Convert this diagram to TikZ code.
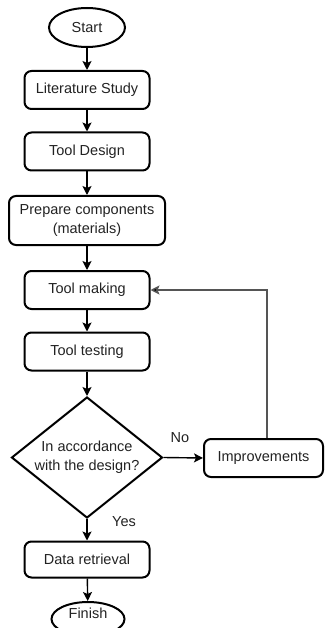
\documentclass[tikz,border=0pt]{standalone}
\usepackage{fontspec}
\setmainfont{Liberation Sans}
\usetikzlibrary{shapes.geometric,arrows.meta}
\definecolor{txt}{HTML}{222222}
\definecolor{fb}{HTML}{555555}
\tikzset{
  base/.style={draw=black, line width=2pt, text=txt, align=center, inner sep=0pt,
    font=\fontsize{14.5}{18.5}\selectfont},
  term/.style={base, ellipse},
  stepbox/.style={base, rectangle, rounded corners=7pt, minimum width=125pt, minimum height=38pt},
  decision/.style={base, diamond, aspect=1.25, minimum width=151pt, minimum height=121pt,
    font=\fontsize{14.5}{19}\selectfont},
  conn/.style={line width=1.4pt, draw=black, -{Stealth[length=9pt,width=9pt,inset=2pt]}},
  back/.style={line width=1.4pt, draw=fb, -{Stealth[length=9pt,width=9pt,inset=2pt,fill=black]}},
  lbl/.style={text=txt, font=\fontsize{14.5}{18}\selectfont, inner sep=0pt}
}
\begin{document}
\begin{tikzpicture}[x=1pt,y=-1pt]
\useasboundingbox (0,0) rectangle (324,628);
\node[term, minimum width=76pt, minimum height=39pt] (start) at (87,27.5) {Start};
\node[stepbox] (lit) at (87,90) {Literature Study};
\node[stepbox] (des) at (87,151.5) {Tool Design};
\node[stepbox, minimum width=156pt, minimum height=49pt] (prep) at (87,220.5) {Prepare components\\(materials)};
\node[stepbox] (make) at (87,290) {Tool making};
\node[stepbox] (test) at (87,351.5) {Tool testing};
\node[decision] (dec) at (87,457.5) {In accordance\\with the design?};
\node[stepbox, minimum width=119pt] (imp) at (263.5,458) {Improvements};
\node[stepbox, minimum height=36pt] (data) at (87,559.5) {Data retrieval};
\node[term, minimum width=73pt, minimum height=34pt] (fin) at (88,619) {\raisebox{0.5pt}[0pt][0pt]{Finish}};
\node[lbl] (no) at (180,438) {No};
\node[lbl] (yes) at (124,522) {Yes};
\draw[conn] (start) -- (lit);
\draw[conn] (lit) -- (des);
\draw[conn] (des) -- (prep);
\draw[conn] (prep) -- (make);
\draw[conn] (make) -- (test);
\draw[conn] (test) -- (dec);
\draw[conn] (dec.east) -- (imp.west);
\draw[conn] (dec.south) -- (data.north);
\draw[conn] (data) -- (fin);
\draw[back] ([xshift=3.5pt]imp.north) |- (make.east);
\end{tikzpicture}
\end{document}
